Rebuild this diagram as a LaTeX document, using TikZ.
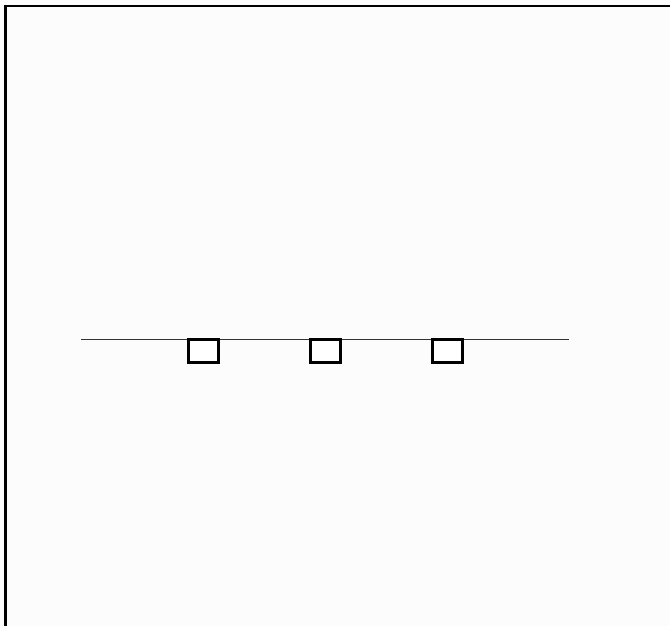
\documentclass[tikz,border=0pt]{standalone}
\begin{document}
\begin{tikzpicture}[x=1pt,y=-1pt,
  frame/.style={line width=2.7pt,black},
  wire/.style={line width=1.1pt,black!80},
  sq/.style={draw=black,line width=3pt,fill=white,minimum width=30pt,minimum height=22.4pt,inner sep=0pt,outer sep=0pt,anchor=north}]
\fill[white!99!black] (0,0) rectangle (670,626);
\useasboundingbox (0,0) rectangle (670,626);
\coordinate (tl) at (5.5,6);
\coordinate (tr) at (670,6);
\coordinate (bl) at (5.5,626);
\draw[frame] (tr) -- (tl) -- (bl);
\coordinate (wl) at (81,339.8);
\coordinate (wr) at (569,339.8);
\draw[wire] (wl) -- (wr);
\node[sq] (s1) at (203,339.8) {};
\node[sq] (s2) at (325.5,339.8) {};
\node[sq] (s3) at (447,339.8) {};
\end{tikzpicture}
\end{document}
